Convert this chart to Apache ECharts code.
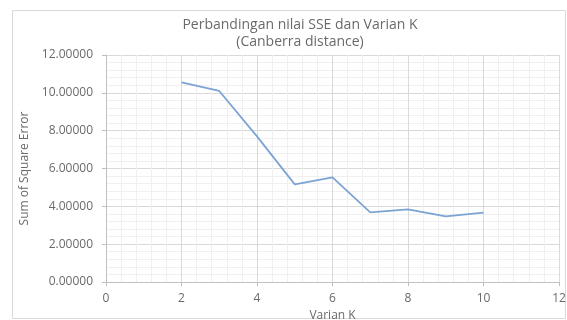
<!DOCTYPE html>
<html>
<head>
<meta charset="utf-8">
<script src="https://cdn.jsdelivr.net/npm/echarts@6/dist/echarts.min.js"></script>
<style>
  html, body { margin: 0; padding: 0; background: #fff; }
  #main { width: 567px; height: 320px; }
</style>
</head>
<body>
<div id="main"></div>
<script>
var kValues = [2, 3, 4, 5, 6, 7, 8, 9, 10];
var sseValues = [10.55, 10.1, 7.7, 5.16, 5.53, 3.68, 3.84, 3.47, 3.67];
var titleLines = ['Perbandingan nilai SSE dan Varian K', '(Canberra distance)'];

var myChart = echarts.init(document.getElementById('main'));
var textColor = '#6a6a6a';
var font = 'Open Sans';

var option = {
    backgroundColor: '#fff',
    animation: false,
    title: {
        text: titleLines.join('\n'),
        left: 295,
        top: 12,
        textAlign: 'center',
        textStyle: {
            color: textColor,
            fontFamily: font,
            fontSize: 14,
            fontWeight: 'normal',
            lineHeight: 17
        }
    },
    graphic: [{
        type: 'rect',
        shape: {x: 12.5, y: 10.5, width: 553, height: 308},
        style: {fill: 'none', stroke: '#d9d9d9', lineWidth: 1},
        silent: true
    }],
    grid: {left: 106, right: 8, top: 55, bottom: 38, outerBoundsMode: 'none', containLabel: false},
    xAxis: {
        type: 'value',
        min: 0,
        max: 12,
        interval: 2,
        name: 'Varian K',
        nameLocation: 'middle',
        nameGap: 27,
        nameTextStyle: {color: textColor, fontFamily: font, fontSize: 12},
        axisLine: {show: true, lineStyle: {color: '#bfbfbf'}},
        axisTick: {show: true, length: 4, lineStyle: {color: '#bfbfbf'}},
        axisLabel: {color: textColor, fontFamily: font, fontSize: 12, margin: 11},
        splitLine: {show: true, lineStyle: {color: '#d9d9d9'}},
        minorTick: {show: false, splitNumber: 5},
        minorSplitLine: {show: true, lineStyle: {color: '#f0f0f0'}}
    },
    yAxis: {
        type: 'value',
        min: 0,
        max: 12,
        interval: 2,
        name: 'Sum of Square Error',
        nameLocation: 'middle',
        nameGap: 71,
        nameTextStyle: {color: textColor, fontFamily: font, fontSize: 12},
        axisLine: {show: true, lineStyle: {color: '#bfbfbf'}},
        axisTick: {show: true, length: 4, lineStyle: {color: '#bfbfbf'}},
        axisLabel: {
            color: textColor, fontFamily: font, fontSize: 12, margin: 13,
            formatter: function (v) { return v.toFixed(5); }
        },
        splitLine: {show: true, lineStyle: {color: '#d9d9d9'}},
        minorTick: {show: false, splitNumber: 5},
        minorSplitLine: {show: true, lineStyle: {color: '#f0f0f0'}}
    },
    series: [{
        type: 'line',
        data: kValues.map(function (k, i) { return [k, sseValues[i]]; }),
        showSymbol: false,
        lineStyle: {color: '#7ba3d3', width: 1.75},
        itemStyle: {color: '#7ba3d3'}
    }]
};
myChart.setOption(option);
</script>
</body>
</html>
